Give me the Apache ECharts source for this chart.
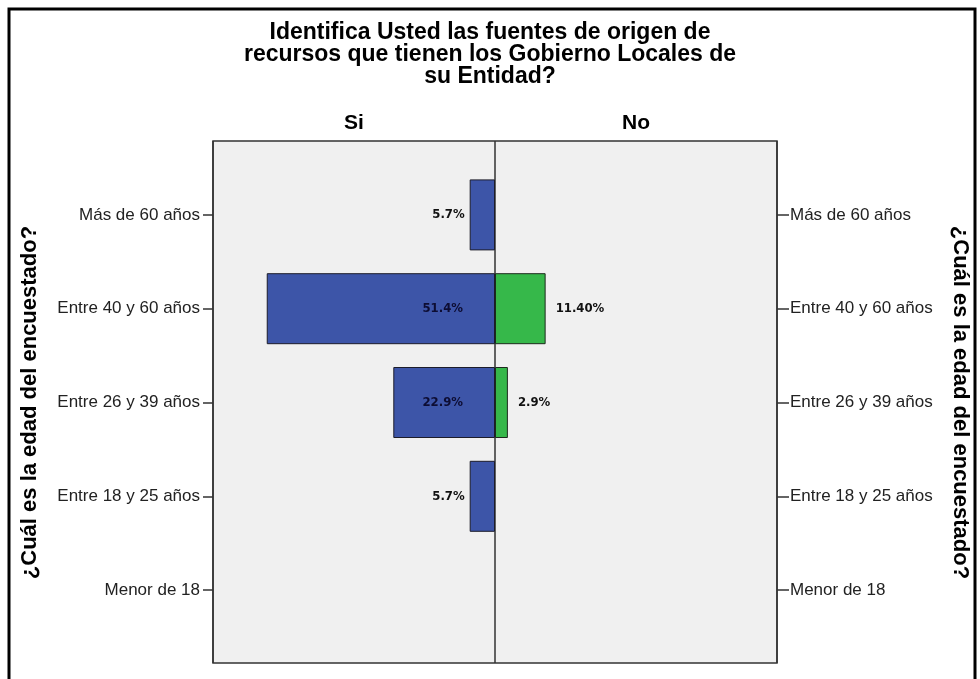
<!DOCTYPE html>
<html>
<head>
<meta charset="utf-8">
<script src="https://cdn.jsdelivr.net/npm/echarts@6/dist/echarts.min.js"></script>
<style>
html,body{margin:0;padding:0;background:#fff;}
#chart{width:980px;height:679px;}
</style>
</head>
<body>
<div id="chart"></div>
<script>
// ---- data ----
var titleText = 'Identifica Usted las fuentes de origen de\nrecursos que tienen los Gobierno Locales de\nsu Entidad?';
var headerLabels = ['Si', 'No'];
var categories = ['Más de 60 años', 'Entre 40 y 60 años', 'Entre 26 y 39 años', 'Entre 18 y 25 años', 'Menor de 18'];
var siValues = [5.7, 51.4, 22.9, 5.7, null];
var noValues = [null, 11.4, 2.9, null, null];
var siLabels = ['5.7%', '51.4%', '22.9%', '5.7%', ''];
var noLabels = ['', '11.40%', '2.9%', '', ''];
var axisName = '¿Cuál es la edad del encuestado?';

var chart = echarts.init(document.getElementById('chart'), null, {renderer: 'canvas'});

var sansFont = "'Liberation Sans',Arial,sans-serif";

var siData = siValues.map(function (v, i) {
  if (v == null) return null;
  var inside = v > 15;
  return {
    value: -v,
    label: {
      show: true,
      position: inside ? 'insideRight' : 'left',
      distance: inside ? 32 : 5,
      formatter: siLabels[i],
      color: inside ? '#0d0d33' : '#111'
    }
  };
});
var noData = noValues.map(function (v, i) {
  if (v == null) return null;
  return {
    value: v,
    label: {show: true, position: 'right', distance: 10, formatter: noLabels[i], color: '#111'}
  };
});

var labelStyle = {show: false, fontFamily: "'DejaVu Sans Condensed','DejaVu Sans',sans-serif", fontWeight: 'bold', fontSize: 13};

var option = {
  animation: false,
  backgroundColor: '#ffffff',
  title: {
    text: titleText,
    left: 'center',
    top: 17,
    textStyle: {fontFamily: sansFont, fontWeight: 'bold', fontSize: 23, lineHeight: 22, color: '#000'}
  },
  graphic: [{
    type: 'polyline',
    shape: {points: [[9, 679], [9, 9], [975, 9], [975, 679]]},
    style: {stroke: '#000', lineWidth: 3, fill: null},
    silent: true
  }],
  grid: [
    {left: 213, right: 203, top: 141, bottom: 16, show: true, backgroundColor: '#f0f0f0', borderColor: '#333', borderWidth: 1.5},
    {left: 213, right: 203, top: 168, bottom: 42}
  ],
  xAxis: [
    {
      gridIndex: 0, type: 'category', data: headerLabels, position: 'top', boundaryGap: true,
      axisLine: {show: false}, axisTick: {show: false},
      axisLabel: {margin: 7, fontFamily: sansFont, fontWeight: 'bold', fontSize: 21, color: '#000'},
      splitLine: {show: true, interval: 0, lineStyle: {color: '#333', width: 1.5}}
    },
    {gridIndex: 1, type: 'value', min: -63.5, max: 63.5, show: false}
  ],
  yAxis: [
    {gridIndex: 0, type: 'value', show: false},
    {
      gridIndex: 1, type: 'category', data: categories, inverse: true, position: 'left',
      axisLine: {show: false, onZero: false},
      axisTick: {show: true, alignWithLabel: true, length: 10, lineStyle: {color: '#333', width: 1.5}},
      axisLabel: {margin: 13, fontFamily: sansFont, fontSize: 17, color: '#222'},
      name: axisName, nameLocation: 'middle', nameGap: 172, nameRotate: 90,
      nameTextStyle: {fontFamily: sansFont, fontWeight: 'bold', fontSize: 22, color: '#000'}
    },
    {
      gridIndex: 1, type: 'category', data: categories, inverse: true, position: 'right',
      axisLine: {show: false, onZero: false},
      axisTick: {show: true, alignWithLabel: true, length: 12, lineStyle: {color: '#333', width: 1.5}},
      axisLabel: {margin: 13, fontFamily: sansFont, fontSize: 17, color: '#222'},
      name: axisName, nameLocation: 'middle', nameGap: 172, nameRotate: -90,
      nameTextStyle: {fontFamily: sansFont, fontWeight: 'bold', fontSize: 22, color: '#000'}
    }
  ],
  series: [
    {
      name: 'Si', type: 'bar', xAxisIndex: 1, yAxisIndex: 1,
      barWidth: 71, barGap: '-100%',
      itemStyle: {color: '#3d55a8', borderColor: '#1c1c2a', borderWidth: 1},
      label: labelStyle,
      data: siData
    },
    {
      name: 'No', type: 'bar', xAxisIndex: 1, yAxisIndex: 1,
      barWidth: 71, barGap: '-100%',
      itemStyle: {color: '#36b84a', borderColor: '#1c2a1c', borderWidth: 1},
      label: labelStyle,
      data: noData
    }
  ]
};
chart.setOption(option);
</script>
</body>
</html>
